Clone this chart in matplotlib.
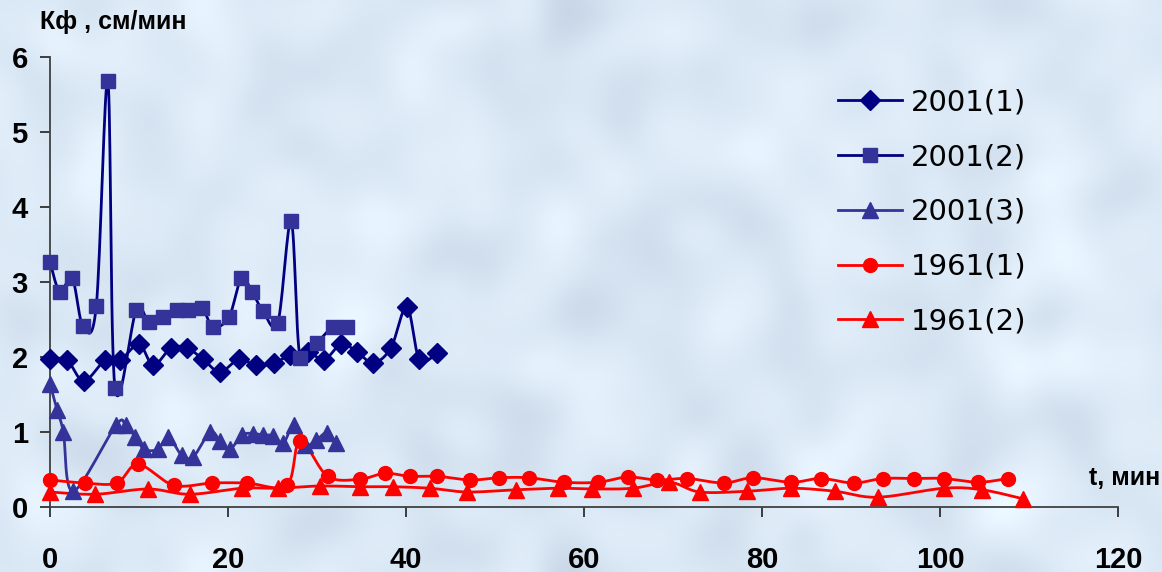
import numpy as np
import matplotlib
matplotlib.use("Agg")
import matplotlib.pyplot as plt
from matplotlib.lines import Line2D

# Filtration coefficient Kf (cm/min) over time t (min)
t_2001_1 = [0, 1.9, 3.8, 6.2, 7.9, 10.0, 11.6, 13.6, 15.4, 17.2, 19.1, 21.2, 23.1,
            25.2, 27.0, 29.0, 30.8, 32.7, 34.5, 36.3, 38.3, 40.1, 41.5, 43.5]
k_2001_1 = [1.97, 1.96, 1.68, 1.96, 1.96, 2.17, 1.89, 2.12, 2.12, 1.97, 1.80, 1.97, 1.89,
            1.92, 2.03, 2.07, 1.96, 2.17, 2.07, 1.92, 2.12, 2.67, 1.97, 2.05]

t_2001_2 = [0, 1.1, 2.5, 3.7, 5.2, 6.5, 7.3, 9.7, 11.1, 12.7, 14.3, 15.5, 17.1, 18.3,
            20.1, 21.5, 22.7, 23.9, 25.6, 27.1, 28.1, 30.0, 31.8, 33.4]
k_2001_2 = [3.27, 2.87, 3.05, 2.41, 2.68, 5.68, 1.59, 2.63, 2.47, 2.54, 2.63, 2.63, 2.65, 2.40,
            2.53, 3.05, 2.87, 2.62, 2.46, 3.81, 1.99, 2.19, 2.40, 2.40]

t_2001_3 = [0, 0.8, 1.5, 2.6, 7.4, 8.5, 9.6, 10.6, 12.1, 13.3, 14.8, 16.1, 18.0, 19.1,
            20.2, 21.6, 22.8, 23.9, 25.1, 26.2, 27.4, 28.7, 29.9, 31.1, 32.1]
k_2001_3 = [1.64, 1.29, 1.00, 0.21, 1.09, 1.09, 0.93, 0.77, 0.77, 0.93, 0.69, 0.67, 1.00, 0.88,
            0.77, 0.96, 0.98, 0.96, 0.95, 0.85, 1.09, 0.83, 0.89, 0.99, 0.85]

t_1961_1 = [0, 3.9, 7.5, 9.9, 13.9, 18.2, 22.1, 26.6, 28.1, 31.2, 34.8, 37.6, 40.4, 43.5,
            47.2, 50.4, 53.8, 57.7, 61.6, 64.9, 68.2, 71.6, 75.7, 79.0, 83.3, 86.6, 90.3,
            93.6, 97.1, 100.4, 104.3, 107.6]
k_1961_1 = [0.36, 0.32, 0.32, 0.57, 0.29, 0.32, 0.32, 0.29, 0.88, 0.41, 0.37, 0.45, 0.41, 0.41,
            0.36, 0.39, 0.39, 0.33, 0.33, 0.40, 0.36, 0.38, 0.32, 0.39, 0.33, 0.38, 0.32,
            0.38, 0.38, 0.38, 0.33, 0.38]

t_1961_2 = [0, 5.1, 11.0, 15.7, 21.6, 25.6, 30.3, 34.8, 38.5, 42.7, 46.9, 52.4, 57.1,
            60.9, 65.5, 69.6, 73.0, 78.3, 83.3, 88.2, 93.0, 100.4, 104.7, 109.3]
k_1961_2 = [0.20, 0.17, 0.24, 0.17, 0.25, 0.25, 0.28, 0.27, 0.27, 0.25, 0.20, 0.23, 0.25,
            0.24, 0.25, 0.33, 0.20, 0.21, 0.25, 0.21, 0.13, 0.25, 0.23, 0.11]

labels = ["2001(1)", "2001(2)", "2001(3)", "1961(1)", "1961(2)"]
x_ticks = [0, 20, 40, 60, 80, 100, 120]
y_ticks = [0, 1, 2, 3, 4, 5, 6]

W, H, DPI = 1162, 572, 100
fig = plt.figure(figsize=(W / DPI, H / DPI), dpi=DPI)

# soft cloudy light-blue backdrop
rng = np.random.default_rng(7)
ny, nx = 143, 291
noise = rng.standard_normal((ny, nx))
fy = np.fft.fftfreq(ny)[:, None]
fx = np.fft.fftfreq(nx)[None, :]
filt = np.exp(-((fx ** 2 + fy ** 2) * (2 * np.pi * 5) ** 2) / 2)
tex = np.real(np.fft.ifft2(np.fft.fft2(noise) * filt))
tex = (tex - tex.mean()) / tex.std()
base = np.array([220, 233, 246]) / 255.0
amp = np.array([5, 5, 4]) / 255.0
img = np.clip(base[None, None, :] + tex[:, :, None] * amp[None, None, :], 0, 1)
bg = fig.add_axes([0, 0, 1, 1], zorder=-10)
bg.imshow(img, aspect="auto", interpolation="bicubic", extent=[0, 1, 0, 1])
bg.set_axis_off()

ax = fig.add_axes([50 / W, 1 - 507 / H, (1118 - 50) / W, (507 - 57) / H])
ax.patch.set_alpha(0)
ax.set_xlim(0, 120)
ax.set_ylim(0, 6)


def smooth(x, y, n=16):
    """Smoothed Bezier curve through the points (scaled to screen proportions)."""
    sx, sy = 8.9, 75.0
    P = np.column_stack([np.asarray(x) * sx, np.asarray(y) * sy])
    if len(P) < 3:
        return x, y
    ext = np.vstack([P[0], P, P[-1]])
    out = []
    for i in range(1, len(ext) - 2):
        p0, p1, p2, p3 = ext[i - 1], ext[i], ext[i + 1], ext[i + 2]
        c1 = p1 + (p2 - p0) / 6.0
        c2 = p2 - (p3 - p1) / 6.0
        s = np.linspace(0, 1, n, endpoint=(i == len(ext) - 3))[:, None]
        seg = ((1 - s) ** 3) * p1 + 3 * ((1 - s) ** 2) * s * c1 + 3 * (1 - s) * s ** 2 * c2 + s ** 3 * p2
        out.append(seg)
    out = np.vstack(out)
    return out[:, 0] / sx, out[:, 1] / sy


series = [
    (t_2001_1, k_2001_1, "#000080", "#000080", "D", 10),
    (t_2001_2, k_2001_2, "#000080", "#333399", "s", 10),
    (t_2001_3, k_2001_3, "#333399", "#333399", "^", 11),
    (t_1961_1, k_1961_1, "#ff0000", "#ff0000", "o", 10),
    (t_1961_2, k_1961_2, "#ff0000", "#ff0000", "^", 11),
]

handles = []
for (tx, ky, lc, mc, mk, ms), lab in zip(series, labels):
    xs, ys = smooth(tx, ky)
    ax.plot(xs, ys, color=lc, lw=2.0, zorder=2, clip_on=False)
    ax.plot(tx, ky, ls="none", marker=mk, ms=ms, mfc=mc, mec=mc, zorder=3, clip_on=False)
    handles.append(Line2D([], [], color=lc, lw=2.0, marker=mk, ms=ms, mfc=mc, mec=mc))

for side in ("top", "right"):
    ax.spines[side].set_visible(False)
for side in ("left", "bottom"):
    ax.spines[side].set_color("#404040")
    ax.spines[side].set_linewidth(1.3)

ax.set_xticks(x_ticks)
ax.set_yticks(y_ticks)
ax.tick_params(axis="both", direction="out", length=7, width=1.2, color="#202020")
ax.tick_params(axis="x", pad=21)
ax.tick_params(axis="y", pad=9)
for lbl in ax.get_xticklabels() + ax.get_yticklabels():
    lbl.set_fontfamily("Liberation Sans")
    lbl.set_fontweight("bold")
    lbl.set_fontsize(21)

fig.text(40 / W, 1 - 22 / H, "Кф , см/мин", fontfamily="Liberation Sans", fontweight="bold",
         fontsize=18, ha="left", va="center")
fig.text(1089 / W, 1 - 478 / H, "t, мин", fontfamily="Liberation Sans", fontweight="bold",
         fontsize=18, ha="left", va="center")

leg = fig.legend(handles=handles, labels=labels, loc="upper left",
                 bbox_to_anchor=(812 / W, 1 - 62 / H), frameon=False,
                 prop={"family": "DejaVu Sans", "size": 21},
                 handlelength=2.2, handletextpad=0.3, labelspacing=0.92)

fig.savefig("out.png", dpi=DPI)
